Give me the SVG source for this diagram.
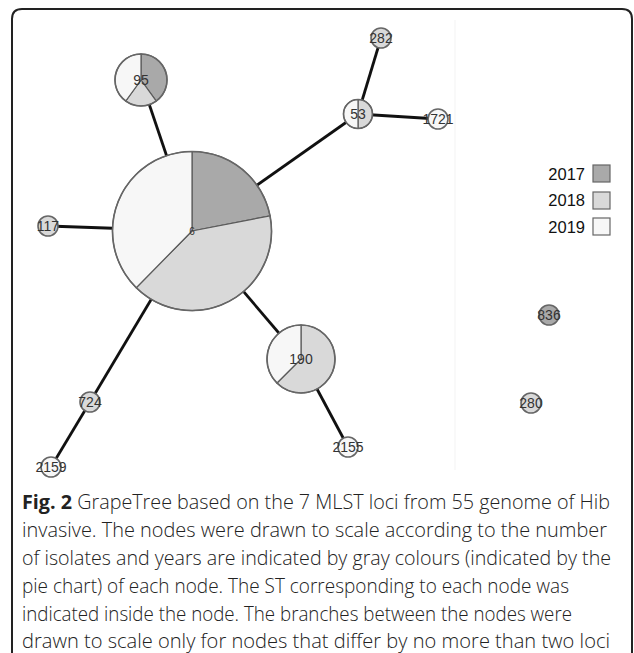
<svg xmlns="http://www.w3.org/2000/svg" width="634" height="653" viewBox="0 0 634 653">
<style>
.edge{stroke:#111;stroke-width:2.8;fill:none}
.y17{fill:#a9a9a9}
.y18{fill:#d9d9d9}
.y19{fill:#f7f7f7}
.sl{stroke:#5a5a5a;stroke-width:1.2}
.ring{fill:none;stroke:#666;stroke-width:1.6}
.lab{font-family:"Liberation Sans",Arial,sans-serif;font-size:14px;fill:#333;text-anchor:middle}
.leg{font-family:"Liberation Sans",Arial,sans-serif;font-size:16.5px;fill:#111;text-anchor:end}
.lbox{stroke:#666;stroke-width:1.2}
.cap{font-family:"Open Sans","Noto Sans",sans-serif;font-size:19.5px;font-weight:300;fill:#222}
.capb{font-weight:700}
</style>
<rect width="634" height="653" fill="#fff"/>
<path d="M12,653 V19 Q12,9 22,9 H622 Q632,9 632,19 V653" fill="none" stroke="#222" stroke-width="2"/>
<line x1="455" y1="20" x2="455" y2="470" stroke="#f3f3f3" stroke-width="1"/>
<g id="connectors">
<line class="edge" x1="192" y1="231" x2="141" y2="80"/>
<line class="edge" x1="192" y1="231" x2="358" y2="114"/>
<line class="edge" x1="192" y1="231" x2="48" y2="226"/>
<line class="edge" x1="192" y1="231" x2="301" y2="359"/>
<line class="edge" x1="192" y1="231" x2="90" y2="402"/>
<line class="edge" x1="358" y1="114" x2="381" y2="38"/>
<line class="edge" x1="358" y1="114" x2="438" y2="119"/>
<line class="edge" x1="301" y1="359" x2="348" y2="447"/>
<line class="edge" x1="90" y1="402" x2="51" y2="467"/>
</g>
<g id="node-6">
<path class="y17 sl" d="M192,231 L192,151.5 A79.5,79.5 0 0 1 270.04,215.83 Z"/>
<path class="y18 sl" d="M192,231 L270.04,215.83 A79.5,79.5 0 0 1 136.28,287.71 Z"/>
<path class="y19 sl" d="M192,231 L136.28,287.71 A79.5,79.5 0 0 1 192,151.5 Z"/>
<circle class="ring" cx="192" cy="231" r="79.5"/>
<text class="lab" x="192" y="235" style="font-size:10px">6</text>
</g>
<g id="node-95">
<path class="y17 sl" d="M141,80 L141,54 A26,26 0 0 1 156.28,101.03 Z"/>
<path class="y18 sl" d="M141,80 L156.28,101.03 A26,26 0 0 1 125.72,101.03 Z"/>
<path class="y19 sl" d="M141,80 L125.72,101.03 A26,26 0 0 1 141,54 Z"/>
<circle class="ring" cx="141" cy="80" r="26"/>
<text class="lab" x="141" y="85">95</text>
</g>
<g id="node-53">
<path class="y18 sl" d="M358,114 L358,99.5 A14.5,14.5 0 0 1 358,128.5 Z"/>
<path class="y19 sl" d="M358,114 L358,128.5 A14.5,14.5 0 0 1 358,99.5 Z"/>
<circle class="ring" cx="358" cy="114" r="14.5"/>
<text class="lab" x="358" y="119">53</text>
</g>
<g id="node-190">
<path class="y18 sl" d="M301,359 L301,325 A34,34 0 1 1 276.96,383.04 Z"/>
<path class="y19 sl" d="M301,359 L276.96,383.04 A34,34 0 0 1 301,325 Z"/>
<circle class="ring" cx="301" cy="359" r="34"/>
<text class="lab" x="301" y="364">190</text>
</g>
<g id="node-282"><circle class="ring" style="fill:#d9d9d9" cx="381" cy="38" r="10"/><text class="lab" x="381" y="43">282</text></g>
<g id="node-1721"><circle class="ring" style="fill:#f7f7f7" cx="438" cy="119" r="10"/><text class="lab" x="438" y="124">1721</text></g>
<g id="node-117"><circle class="ring" style="fill:#d9d9d9" cx="48" cy="226" r="10"/><text class="lab" x="48" y="231">117</text></g>
<g id="node-2155"><circle class="ring" style="fill:#f7f7f7" cx="348" cy="447" r="10"/><text class="lab" x="348" y="452">2155</text></g>
<g id="node-724"><circle class="ring" style="fill:#d9d9d9" cx="90" cy="402" r="10"/><text class="lab" x="90" y="407">724</text></g>
<g id="node-2159"><circle class="ring" style="fill:#f7f7f7" cx="51" cy="467" r="10"/><text class="lab" x="51" y="472">2159</text></g>
<g id="node-836"><circle class="ring" style="fill:#a9a9a9" cx="549" cy="315" r="10"/><text class="lab" x="549" y="320">836</text></g>
<g id="node-280"><circle class="ring" style="fill:#d9d9d9" cx="531" cy="403" r="10"/><text class="lab" x="531" y="408">280</text></g>
<g id="legend">
<text class="leg" x="585" y="180">2017</text><rect class="y17 lbox" x="593" y="165" width="17" height="17"/>
<text class="leg" x="585" y="206">2018</text><rect class="y18 lbox" x="593" y="192" width="17" height="17"/>
<text class="leg" x="585" y="233">2019</text><rect class="y19 lbox" x="593" y="218" width="17" height="17"/>
</g>
<g id="caption">
<text class="cap" x="22" y="508.5" textLength="588" lengthAdjust="spacingAndGlyphs"><tspan class="capb">Fig. 2</tspan> GrapeTree based on the 7 MLST loci from 55 genome of Hib</text>
<text class="cap" x="22" y="536.5" textLength="585" lengthAdjust="spacingAndGlyphs">invasive. The nodes were drawn to scale according to the number</text>
<text class="cap" x="22" y="564.5" textLength="589" lengthAdjust="spacingAndGlyphs">of isolates and years are indicated by gray colours (indicated by the</text>
<text class="cap" x="22" y="592.5" textLength="547" lengthAdjust="spacingAndGlyphs">pie chart) of each node. The ST corresponding to each node was</text>
<text class="cap" x="22" y="620.5" textLength="550" lengthAdjust="spacingAndGlyphs">indicated inside the node. The branches between the nodes were</text>
<text class="cap" x="22" y="648" textLength="588" lengthAdjust="spacingAndGlyphs">drawn to scale only for nodes that differ by no more than two loci</text>
</g>
</svg>
